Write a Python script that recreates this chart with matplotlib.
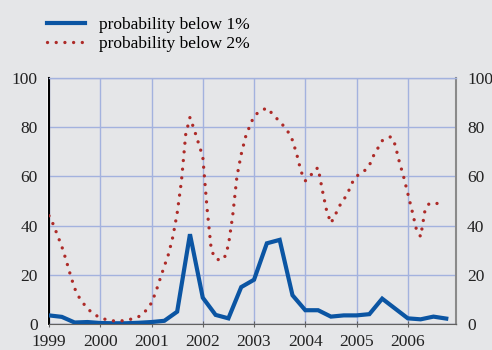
import matplotlib
matplotlib.use('Agg')
import matplotlib.pyplot as plt
from matplotlib.patches import Rectangle

# quarterly series: probability below 1%
q_years = [1999.0, 1999.25, 1999.5, 1999.75, 2000.0, 2000.25, 2000.5, 2000.75,
           2001.0, 2001.25, 2001.5, 2001.75, 2002.0, 2002.25, 2002.5, 2002.75,
           2003.0, 2003.25, 2003.5, 2003.75, 2004.0, 2004.25, 2004.5, 2004.75,
           2005.0, 2005.25, 2005.5, 2005.75, 2006.0, 2006.25, 2006.5, 2006.75]
below1 = [3.5, 2.9, 0.6, 0.8, 0.4, 0.3, 0.3, 0.5,
          0.8, 1.3, 5.0, 36.5, 10.7, 3.7, 2.3, 15.0,
          18.0, 32.8, 34.2, 11.7, 5.6, 5.6, 3.0, 3.5,
          3.5, 4.0, 10.3, 6.3, 2.3, 1.9, 3.0, 2.2]

# monthly series: probability below 2%
m_years = [1999 + i / 12 for i in range(92)]
below2 = [44.0, 40.5, 36.0, 31.5, 26.0, 20.0, 14.5, 11.0, 8.5, 6.2, 4.8, 3.5,
          2.6, 2.0, 1.5, 1.3, 1.2, 1.3, 1.5, 1.9, 2.3, 3.0, 4.3, 6.0,
          8.6, 13.0, 18.3, 23.5, 28.5, 35.5, 45.0, 58.0, 77.0, 84.0, 79.0, 73.5,
          68.0, 47.0, 30.0, 26.5, 26.0, 26.5, 32.0, 44.0, 60.0, 69.0, 76.0, 80.5,
          84.5, 86.0, 87.0, 87.8, 86.0, 84.0, 82.5, 80.3, 78.0, 74.7, 69.0, 62.0,
          58.2, 59.5, 62.5, 63.5, 54.3, 46.0, 41.0, 44.3, 48.0, 50.5, 53.5, 57.5,
          60.0, 61.5, 62.5, 64.5, 68.5, 71.5, 74.5, 75.5, 76.1, 73.0, 66.0, 60.0,
          53.0, 46.0, 38.5, 35.5, 46.0, 49.0, 49.0, 49.0]

year_ticks = [1999, 2000, 2001, 2002, 2003, 2004, 2005, 2006]
y_ticks = [0, 20, 40, 60, 80, 100]

bg = '#e5e6e8'
grid_c = '#a3b2de'
plt.rcParams['font.family'] = ['Liberation Serif', 'DejaVu Serif']
plt.rcParams['font.size'] = 12.5

fig = plt.figure(figsize=(4.92, 3.5), dpi=100, facecolor=bg)
ax = fig.add_axes([49 / 492, 26 / 350, 407 / 492, 246 / 350], facecolor=bg)

# white shadow line left and below the frame
fig.add_artist(Rectangle((47 / 492, 24 / 350), 409 / 492, 248 / 350,
                         transform=fig.transFigure, facecolor='white',
                         edgecolor='none', zorder=-1))

ax.plot(q_years, below1, color='#0b55a3', lw=3.0, solid_joinstyle='miter',
        label='probability below 1%', zorder=3)
ax.plot(m_years, below2, color='#ad2b28', lw=2.4, linestyle=(0, (0.01, 2.6)),
        dash_capstyle='round', label='probability below 2%', zorder=3)

ax.set_xlim(1999, 2006.94)
ax.set_ylim(0, 100)
ax.set_xticks(year_ticks)
ax.set_yticks(y_ticks)
ax.grid(True, color=grid_c, lw=1.0)
ax.set_axisbelow(True)

ax.spines['left'].set_color('black')
ax.spines['left'].set_linewidth(1.5)
ax.spines['right'].set_color('#8a8a8a')
ax.spines['right'].set_linewidth(1.5)
ax.spines['bottom'].set_color('#606060')
ax.spines['bottom'].set_linewidth(1.0)
ax.spines['top'].set_color(grid_c)
ax.spines['top'].set_linewidth(1.0)

ax.tick_params(axis='y', length=0, pad=8, labelleft=True, labelright=True,
               labelcolor='#222222')
ax.tick_params(axis='x', direction='inout', length=5, color='#606060', pad=5,
               labelcolor='#222222')

fig.legend(loc='upper left', bbox_to_anchor=(47 / 492, 1 - 17 / 350),
           frameon=False, borderpad=0, borderaxespad=0, handlelength=2.2,
           handletextpad=0.8, labelspacing=0.15, fontsize=12.5)

fig.savefig('out.png', dpi=100, facecolor=bg)
